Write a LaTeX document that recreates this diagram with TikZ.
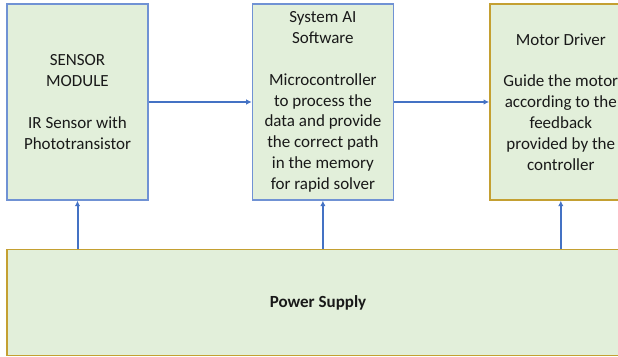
\documentclass[tikz,border=0pt]{standalone}
\usepackage{fontspec}
\setmainfont{Carlito}
\usepackage{xcolor}
\usepackage{tikz}
\usetikzlibrary{arrows.meta, positioning}
\definecolor{hwfill}{RGB}{226,239,218}
\definecolor{hwblue}{RGB}{112,146,212}
\definecolor{hwarrow}{RGB}{68,114,196}
\definecolor{hwgold}{RGB}{196,160,50}
\definecolor{hwtext}{RGB}{25,25,25}
\tikzset{
  unit/.style={
    rectangle, draw=hwblue, line width=1.4pt, fill=hwfill,
    minimum width=141pt, minimum height=196pt, inner sep=0pt,
    align=center, text=hwtext, font=\fontsize{17}{20.8}\selectfont
  },
  goldunit/.style={unit, draw=hwgold},
  powerflow/.style={-{Latex[length=5.5pt,width=5.5pt]}, line width=2pt, draw=hwarrow}
}

\begin{document}
\begin{tikzpicture}[x=1pt, y=1pt]
\useasboundingbox (0,0) rectangle (618,356);

\node[unit] (sensor) at (77.5,254) {SENSOR\\MODULE\\[20.8pt]IR Sensor with\\Phototransistor};
\node[unit, right=103pt of sensor] (soft) {System AI\\Software\\[20.8pt]Microcontroller\\to process the\\data and provide\\the correct path\\in the memory\\for rapid solver};
\node[goldunit, right=95pt of soft, minimum width=142pt] (motor) {Motor Driver\\[20.8pt]Guide the motor\\according to the\\feedback\\provided by the\\controller};
\node[goldunit, below=48pt of sensor.south west, anchor=north west, minimum width=622pt, minimum height=106pt] (power) {\textbf{Power Supply}};

\draw[powerflow] (sensor) -- (soft);
\draw[powerflow] (soft) -- (motor);
\draw[powerflow] (sensor.south |- power.north) -- (sensor.south);
\draw[powerflow] (soft.south |- power.north) -- (soft.south);
\draw[powerflow] (motor.south |- power.north) -- (motor.south);

\end{tikzpicture}
\end{document}
